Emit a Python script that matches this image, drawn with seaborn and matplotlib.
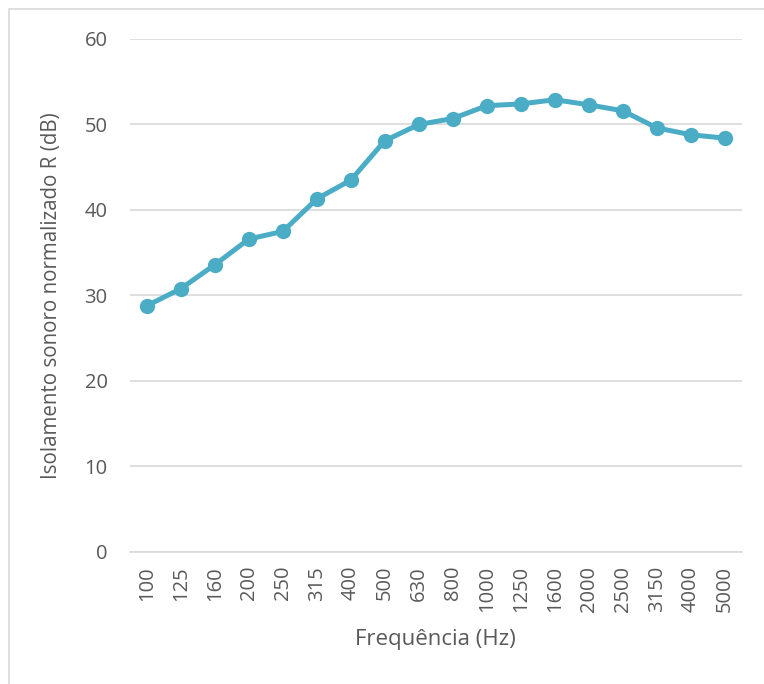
import pandas as pd
import numpy as np
import seaborn as sns
import matplotlib.pyplot as plt
from matplotlib.patches import Rectangle

# Frequency bands and measured sound reduction index
frequencias = ["100", "125", "160", "200", "250", "315", "400", "500", "630",
               "800", "1000", "1250", "1600", "2000", "2500", "3150", "4000", "5000"]
isolamento = [28.8, 30.8, 33.6, 36.6, 37.5, 41.3, 43.5, 48.1, 50.0,
              50.7, 52.2, 52.4, 52.9, 52.3, 51.6, 49.6, 48.8, 48.4]

df = pd.DataFrame({"freq": frequencias, "R": isolamento})

sns.set_theme(style="white")
plt.rcParams["font.family"] = ["Open Sans", "DejaVu Sans"]

fig = plt.figure(figsize=(7.64, 6.84), dpi=100)
ax = fig.add_axes([0.170, 0.193, 0.801, 0.750])

sns.lineplot(data=df, x="freq", y="R", ax=ax, color="#4BACC6", linewidth=3.6,
             marker="o", markersize=11, markeredgewidth=0, sort=False)

ax.set_ylim(0, 60)
ax.set_yticks(np.arange(0, 61, 10))
ax.set_xlim(-0.5, len(frequencias) - 0.5)
ax.yaxis.grid(True, color="#D9D9D9", linewidth=1.2)
ax.set_axisbelow(True)
for side in ["left", "right", "top"]:
    ax.spines[side].set_visible(False)
ax.spines["bottom"].set_color("#D9D9D9")
ax.spines["bottom"].set_linewidth(1.2)

ax.tick_params(axis="x", rotation=90, labelsize=14.5, colors="#595959", length=0, pad=10)
ax.tick_params(axis="y", labelsize=14.5, colors="#595959", length=0, pad=16)

ax.set_xlabel("Frequência (Hz)", fontsize=16, color="#595959", labelpad=12)
ax.set_ylabel("Isolamento sonoro normalizado R (dB)", fontsize=14.8, color="#595959", labelpad=16)

# chart frame
fig.patches.append(Rectangle((9 / 764, -0.01), 1.0, 1 - 9 / 684 + 0.01,
                             transform=fig.transFigure, fill=False,
                             edgecolor="#D9D9D9", linewidth=1.2))

fig.savefig("out.png", dpi=100)
